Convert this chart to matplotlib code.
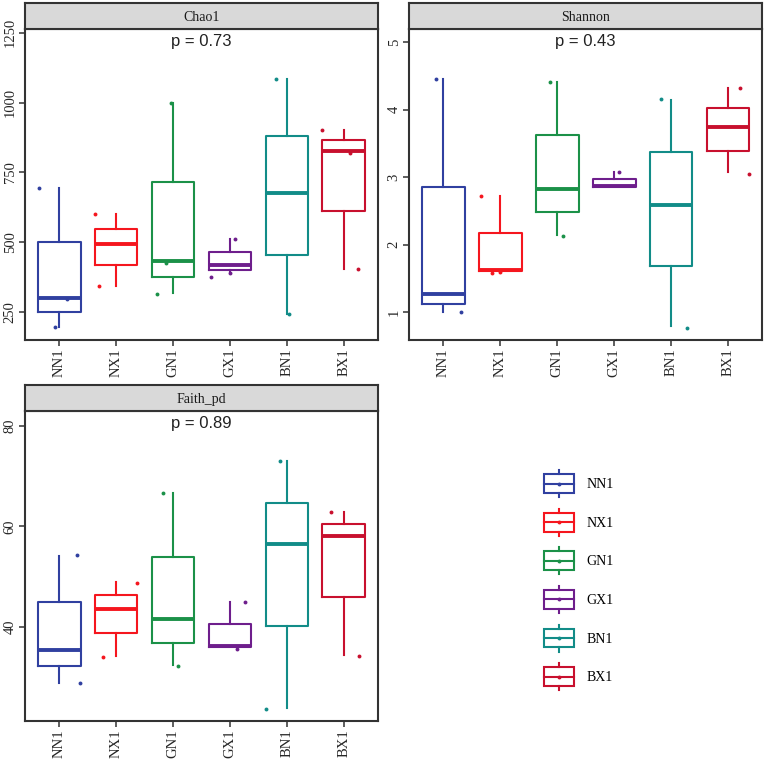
import numpy as np
import matplotlib
matplotlib.use("Agg")
from matplotlib import pyplot as plt
from matplotlib.patches import Rectangle
from matplotlib.lines import Line2D
from matplotlib.legend_handler import HandlerBase

# groups and colours
groups = ["NN1", "NX1", "GN1", "GX1", "BN1", "BX1"]
colors = ["#3040A0", "#F5161E", "#1B9148", "#6E1E8C", "#128C88", "#C8102E"]

# box stats per group: whislo, q1, med, q3, whishi
chao1_lo = [198, 343, 320, 390, 242, 405]
chao1_q1 = [249, 417, 376, 400, 456, 612]
chao1_med = [302, 492, 432, 420, 676, 828]
chao1_q3 = [499, 548, 715, 464, 880, 866]
chao1_hi = [695, 600, 998, 510, 1083, 902]

shannon_lo = [1.01, 1.58, 2.14, 2.85, 0.79, 3.07]
shannon_q1 = [1.13, 1.61, 2.49, 2.85, 1.69, 3.39]
shannon_med = [1.27, 1.63, 2.83, 2.87, 2.59, 3.75]
shannon_q3 = [2.85, 2.18, 3.63, 2.97, 3.38, 4.03]
shannon_hi = [4.45, 2.72, 4.41, 3.07, 4.15, 4.32]

faith_lo = [28.9, 34.2, 32.5, 36.0, 23.8, 34.4]
faith_q1 = [32.3, 38.8, 36.9, 36.0, 40.1, 46.0]
faith_med = [35.5, 43.6, 41.5, 36.2, 56.5, 58.1]
faith_q3 = [44.9, 46.3, 53.9, 40.6, 64.7, 60.4]
faith_hi = [54.0, 48.9, 66.6, 45.0, 73.0, 62.8]

# jittered sample points: (group index, jitter, value)
chao1_pts = [(0, -0.35, 695), (0, 0.13, 296), (0, -0.08, 198),
             (1, -0.37, 600), (1, -0.30, 343),
             (2, -0.04, 998), (2, -0.29, 314), (2, -0.12, 425),
             (3, 0.08, 512), (3, -0.33, 377), (3, 0.0, 390),
             (4, -0.20, 1083), (4, 0.04, 242),
             (5, -0.39, 900), (5, 0.25, 403), (5, 0.10, 820)]
shannon_pts = [(0, -0.13, 4.45), (0, 0.32, 1.0),
               (1, -0.33, 2.72), (1, -0.15, 1.58), (1, 0.0, 1.60),
               (2, -0.12, 4.41), (2, 0.10, 2.13),
               (3, 0.08, 3.08),
               (4, -0.18, 4.16), (4, 0.27, 0.77),
               (5, 0.20, 4.32), (5, 0.36, 3.05)]
faith_pts = [(0, 0.32, 54.2), (0, 0.36, 28.8),
             (1, 0.37, 48.8), (1, -0.23, 34.0),
             (2, -0.17, 66.6), (2, 0.08, 32.3),
             (3, 0.26, 45.0), (3, 0.12, 35.6),
             (4, -0.13, 73.0), (4, -0.37, 23.6),
             (5, -0.22, 62.8), (5, 0.27, 34.2)]

panels = [
    ("Chao1", "p = 0.73", (chao1_lo, chao1_q1, chao1_med, chao1_q3, chao1_hi),
     chao1_pts, [250, 500, 750, 1000, 1250], (150, 1262)),
    ("Shannon", "p = 0.43", (shannon_lo, shannon_q1, shannon_med, shannon_q3, shannon_hi),
     shannon_pts, [1, 2, 3, 4, 5], (0.59, 5.19)),
    ("Faith_pd", "p = 0.89", (faith_lo, faith_q1, faith_med, faith_q3, faith_hi),
     faith_pts, [40, 60, 80], (21.3, 82.85)),
]

W, H = 767, 759
# panel boxes in pixels: left, right, strip top, panel top, panel bottom
boxes = [(25, 378, 3.3, 29.3, 340), (409, 762.3, 3.3, 29.3, 340),
         (25, 378, 385, 411.3, 721)]

serif = ["Liberation Serif", "DejaVu Serif"]
plt.rcParams["font.family"] = serif

fig = plt.figure(figsize=(W / 100, H / 100), dpi=100)


def frac(l, r, t, b):
    return [l / W, 1 - b / H, (r - l) / W, (b - t) / H]


for (name, ptxt, stats, pts, yticks, ylim), (l, r, st, pt, pb) in zip(panels, boxes):
    ax = fig.add_axes(frac(l, r, pt, pb))
    lo, q1, med, q3, hi = stats
    for i, g in enumerate(groups):
        c = colors[i]
        s = [dict(whislo=lo[i], q1=q1[i], med=med[i], q3=q3[i], whishi=hi[i], fliers=[])]
        ax.bxp(s, positions=[i + 1], widths=0.75, showcaps=False, patch_artist=False,
               boxprops=dict(color=c, linewidth=1.5),
               whiskerprops=dict(color=c, linewidth=1.5),
               medianprops=dict(color=c, linewidth=2.8, solid_capstyle="butt"),
               manage_ticks=False)
    for gi, jit, v in pts:
        ax.plot(gi + 1 + jit, v, "o", color=colors[gi], markersize=2.8, markeredgewidth=0)
    ax.set_xlim(0.4, 6.6)
    ax.set_ylim(*ylim)
    ax.set_xticks(range(1, 7))
    ax.set_xticklabels(groups, rotation=90, fontsize=10.5, color="#262626")
    ax.set_yticks(yticks)
    ax.set_yticklabels([str(t) for t in yticks], rotation=90, va="center",
                       fontsize=10.5, color="#262626")
    ax.tick_params(length=4, width=1.1, color="#333333", pad=2)
    for sp in ax.spines.values():
        sp.set_linewidth(1.5)
        sp.set_color("#333333")
    ax.text(0.5, 0.985, ptxt, transform=ax.transAxes, ha="center", va="top",
            fontsize=12, family=["Liberation Sans", "DejaVu Sans"], color="#222222")

    # facet strip
    sax = fig.add_axes(frac(l, r, st, pt))
    sax.set_facecolor("#D9D9D9")
    sax.set_xticks([])
    sax.set_yticks([])
    for sp in sax.spines.values():
        sp.set_linewidth(1.5)
        sp.set_color("#333333")
    sax.text(0.5, 0.45, name, transform=sax.transAxes, ha="center", va="center",
             fontsize=10, color="#1A1A1A")


class BoxHandler(HandlerBase):
    # ggplot-like boxplot key, drawn around the label's mid-height
    def create_artists(self, legend, orig, xd, yd, width, height, fontsize, trans):
        c = orig.get_color()
        bw = 21.0
        bh = 13.5
        total = 19.5
        cx = -xd + width / 2
        cy = 0.33 * fontsize
        x0 = cx - bw / 2
        y0 = cy - bh / 2
        box = Rectangle((x0, y0), bw, bh, fill=False, edgecolor=c, linewidth=1.5,
                        transform=trans)
        medl = Line2D([x0, x0 + bw], [cy, cy], color=c, linewidth=1.5, transform=trans)
        w1 = Line2D([cx, cx], [cy - total / 2, y0], color=c, linewidth=1.5, transform=trans)
        w2 = Line2D([cx, cx], [y0 + bh, cy + total / 2], color=c, linewidth=1.5,
                    transform=trans)
        dot = Line2D([cx], [cy], marker="o", markersize=1.8, color=c,
                     linestyle="none", transform=trans)
        return [box, medl, w1, w2, dot]


handles = [Line2D([], [], color=c) for c in colors]
fig.legend(handles, groups, handler_map={Line2D: BoxHandler()},
           loc="upper left", bbox_to_anchor=(541 / W, 1 - 471 / H),
           frameon=False, fontsize=10, handlelength=2.6, handleheight=2.5,
           labelspacing=0.91, handletextpad=0.7, borderpad=0.0, borderaxespad=0)

fig.savefig("out.png", dpi=100)
